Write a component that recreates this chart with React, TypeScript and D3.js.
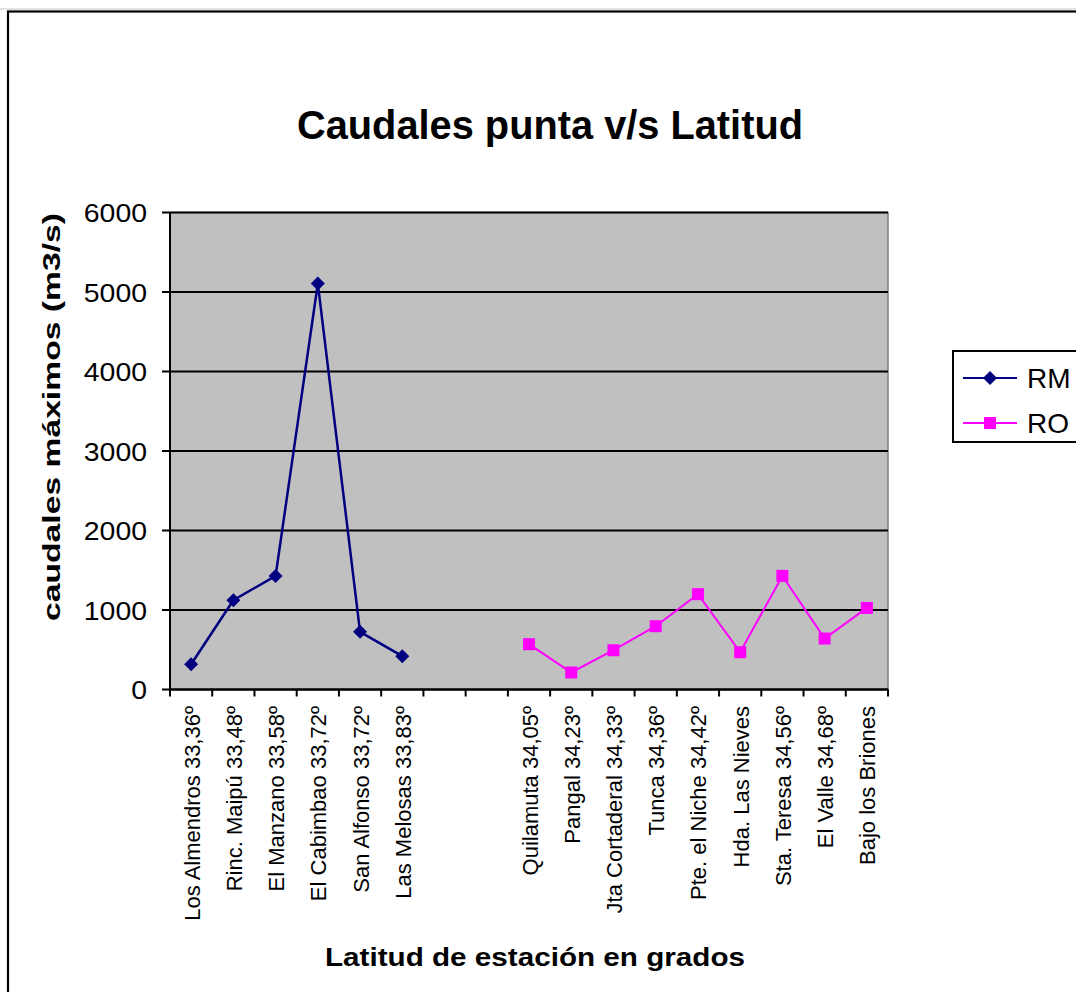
import React from "react";
import * as d3 from "d3";

const categories: string[] = [
  "Los Almendros 33,36º",
  "Rinc. Maipú 33,48º",
  "El Manzano 33,58º",
  "El Cabimbao 33,72º",
  "San Alfonso 33,72º",
  "Las Melosas 33,83º",
  "",
  "",
  "Quilamuta 34,05º",
  "Pangal 34,23º",
  "Jta Cortaderal 34,33º",
  "Tunca 34,36º",
  "Pte. el Niche 34,42º",
  "Hda. Las Nieves",
  "Sta. Teresa 34,56º",
  "El Valle 34,68º",
  "Bajo los Briones",
];

// RM occupies categories 0..5, RO categories 8..16
const rmIndex = [0, 1, 2, 3, 4, 5];
const rmValues = [318, 1123, 1429, 5107, 725, 419];
const roIndex = [8, 9, 10, 11, 12, 13, 14, 15, 16];
const roValues = [570, 214, 494, 796, 1199, 469, 1429, 641, 1026];

const yTicks = [0, 1000, 2000, 3000, 4000, 5000, 6000];

const title = "Caudales punta v/s Latitud";
const xTitle = "Latitud de estación en grados";
const yTitle = "caudales máximos (m3/s)";
const seriesNames = ["RM", "RO"];

const FONT = "'Liberation Sans', Arial, Helvetica, sans-serif";
const RM_COLOR = "#000080";
const RO_COLOR = "#FF00FF";

export default function App() {
  const left = 170;
  const right = 888;
  const top = 212.5;
  const bottom = 689.5;

  const x = d3
    .scaleBand<number>()
    .domain(categories.map((_, i) => i))
    .range([left, right])
    .padding(0);
  const cx = (i: number) => (x(i) as number) + x.bandwidth() / 2;
  const y = d3.scaleLinear().domain([0, 6000]).range([bottom, top]);

  const line = d3
    .line<[number, number]>()
    .x((d) => cx(d[0]))
    .y((d) => y(d[1]));

  const rmPts: [number, number][] = rmIndex.map((c, k) => [c, rmValues[k]]);
  const roPts: [number, number][] = roIndex.map((c, k) => [c, roValues[k]]);

  const boundaries = d3.range(categories.length + 1).map((i) =>
    i < categories.length ? (x(i) as number) : right
  );

  const diamond = (px: number, py: number, r: number) =>
    `M${px},${py - r}L${px + r},${py}L${px},${py + r}L${px - r},${py}Z`;

  return (
    <svg
      width={1076}
      height={992}
      style={{ position: "absolute", left: 0, top: 0, background: "#fff" }}
      fontFamily={FONT}
    >
      {/* outer chart border */}
      <line x1={0} x2={1076} y1={9} y2={9} stroke="#c8c8c8" strokeWidth={1} />
      <rect x={8} y={11.5} width={1100} height={1100} fill="none" stroke="#000" strokeWidth={2.2} />

      {/* title */}
      <text
        x={550}
        y={139}
        textAnchor="middle"
        fontSize={41}
        fontWeight="bold"
        textLength={506}
        lengthAdjust="spacingAndGlyphs"
      >
        {title}
      </text>

      {/* plot area */}
      <rect x={left} y={top} width={right - left} height={bottom - top} fill="#C0C0C0" stroke="#808080" strokeWidth={1.5} />

      {/* gridlines */}
      {yTicks.map((t) => (
        <line key={"g" + t} x1={left} x2={right} y1={y(t)} y2={y(t)} stroke="#000" strokeWidth={2} />
      ))}

      {/* y axis */}
      <line x1={left} x2={left} y1={top} y2={bottom} stroke="#000" strokeWidth={2} />
      {yTicks.map((t) => (
        <g key={"yt" + t}>
          <line x1={left - 8} x2={left} y1={y(t)} y2={y(t)} stroke="#000" strokeWidth={2} />
          <text x={147} y={y(t) + 9.5} textAnchor="end" fontSize={26} textLength={String(t).length * 15.8} lengthAdjust="spacingAndGlyphs">
            {t}
          </text>
        </g>
      ))}

      {/* x axis */}
      <line x1={left} x2={right} y1={bottom} y2={bottom} stroke="#000" strokeWidth={2} />
      {boundaries.map((bx, i) => (
        <line key={"xt" + i} x1={bx} x2={bx} y1={bottom} y2={bottom + 7} stroke="#000" strokeWidth={2} />
      ))}
      {categories.map((c, i) =>
        c ? (
          <text
            key={"xl" + i}
            transform={`translate(${cx(i) + 8.5},706) rotate(-90)`}
            textAnchor="end"
            fontSize={22}
          >
            {c}
          </text>
        ) : null
      )}

      {/* axis titles */}
      <text
        transform={`translate(60,417) rotate(-90)`}
        textAnchor="middle"
        fontSize={24}
        fontWeight="bold"
        textLength={408}
        lengthAdjust="spacingAndGlyphs"
      >
        {yTitle}
      </text>
      <text x={535} y={966} textAnchor="middle" fontSize={26} fontWeight="bold" textLength={420} lengthAdjust="spacingAndGlyphs">
        {xTitle}
      </text>

      {/* series */}
      <path d={line(rmPts) || ""} fill="none" stroke={RM_COLOR} strokeWidth={2.5} />
      {rmPts.map((p, i) => (
        <path key={"rm" + i} d={diamond(cx(p[0]), y(p[1]), 7)} fill={RM_COLOR} />
      ))}
      <path d={line(roPts) || ""} fill="none" stroke={RO_COLOR} strokeWidth={2} />
      {roPts.map((p, i) => (
        <rect key={"ro" + i} x={cx(p[0]) - 6} y={y(p[1]) - 6} width={12} height={12} fill={RO_COLOR} />
      ))}

      {/* legend */}
      <rect x={953} y={351} width={200} height={91} fill="#fff" stroke="#000" strokeWidth={2} />
      <line x1={963} x2={1017} y1={378} y2={378} stroke={RM_COLOR} strokeWidth={2} />
      <path d={diamond(990, 378, 7)} fill={RM_COLOR} />
      <text x={1027} y={388} fontSize={28}>{seriesNames[0]}</text>
      <line x1={963} x2={1017} y1={423} y2={423} stroke={RO_COLOR} strokeWidth={2} />
      <rect x={984} y={417} width={12} height={12} fill={RO_COLOR} />
      <text x={1027} y={433} fontSize={28}>{seriesNames[1]}</text>
    </svg>
  );
}
